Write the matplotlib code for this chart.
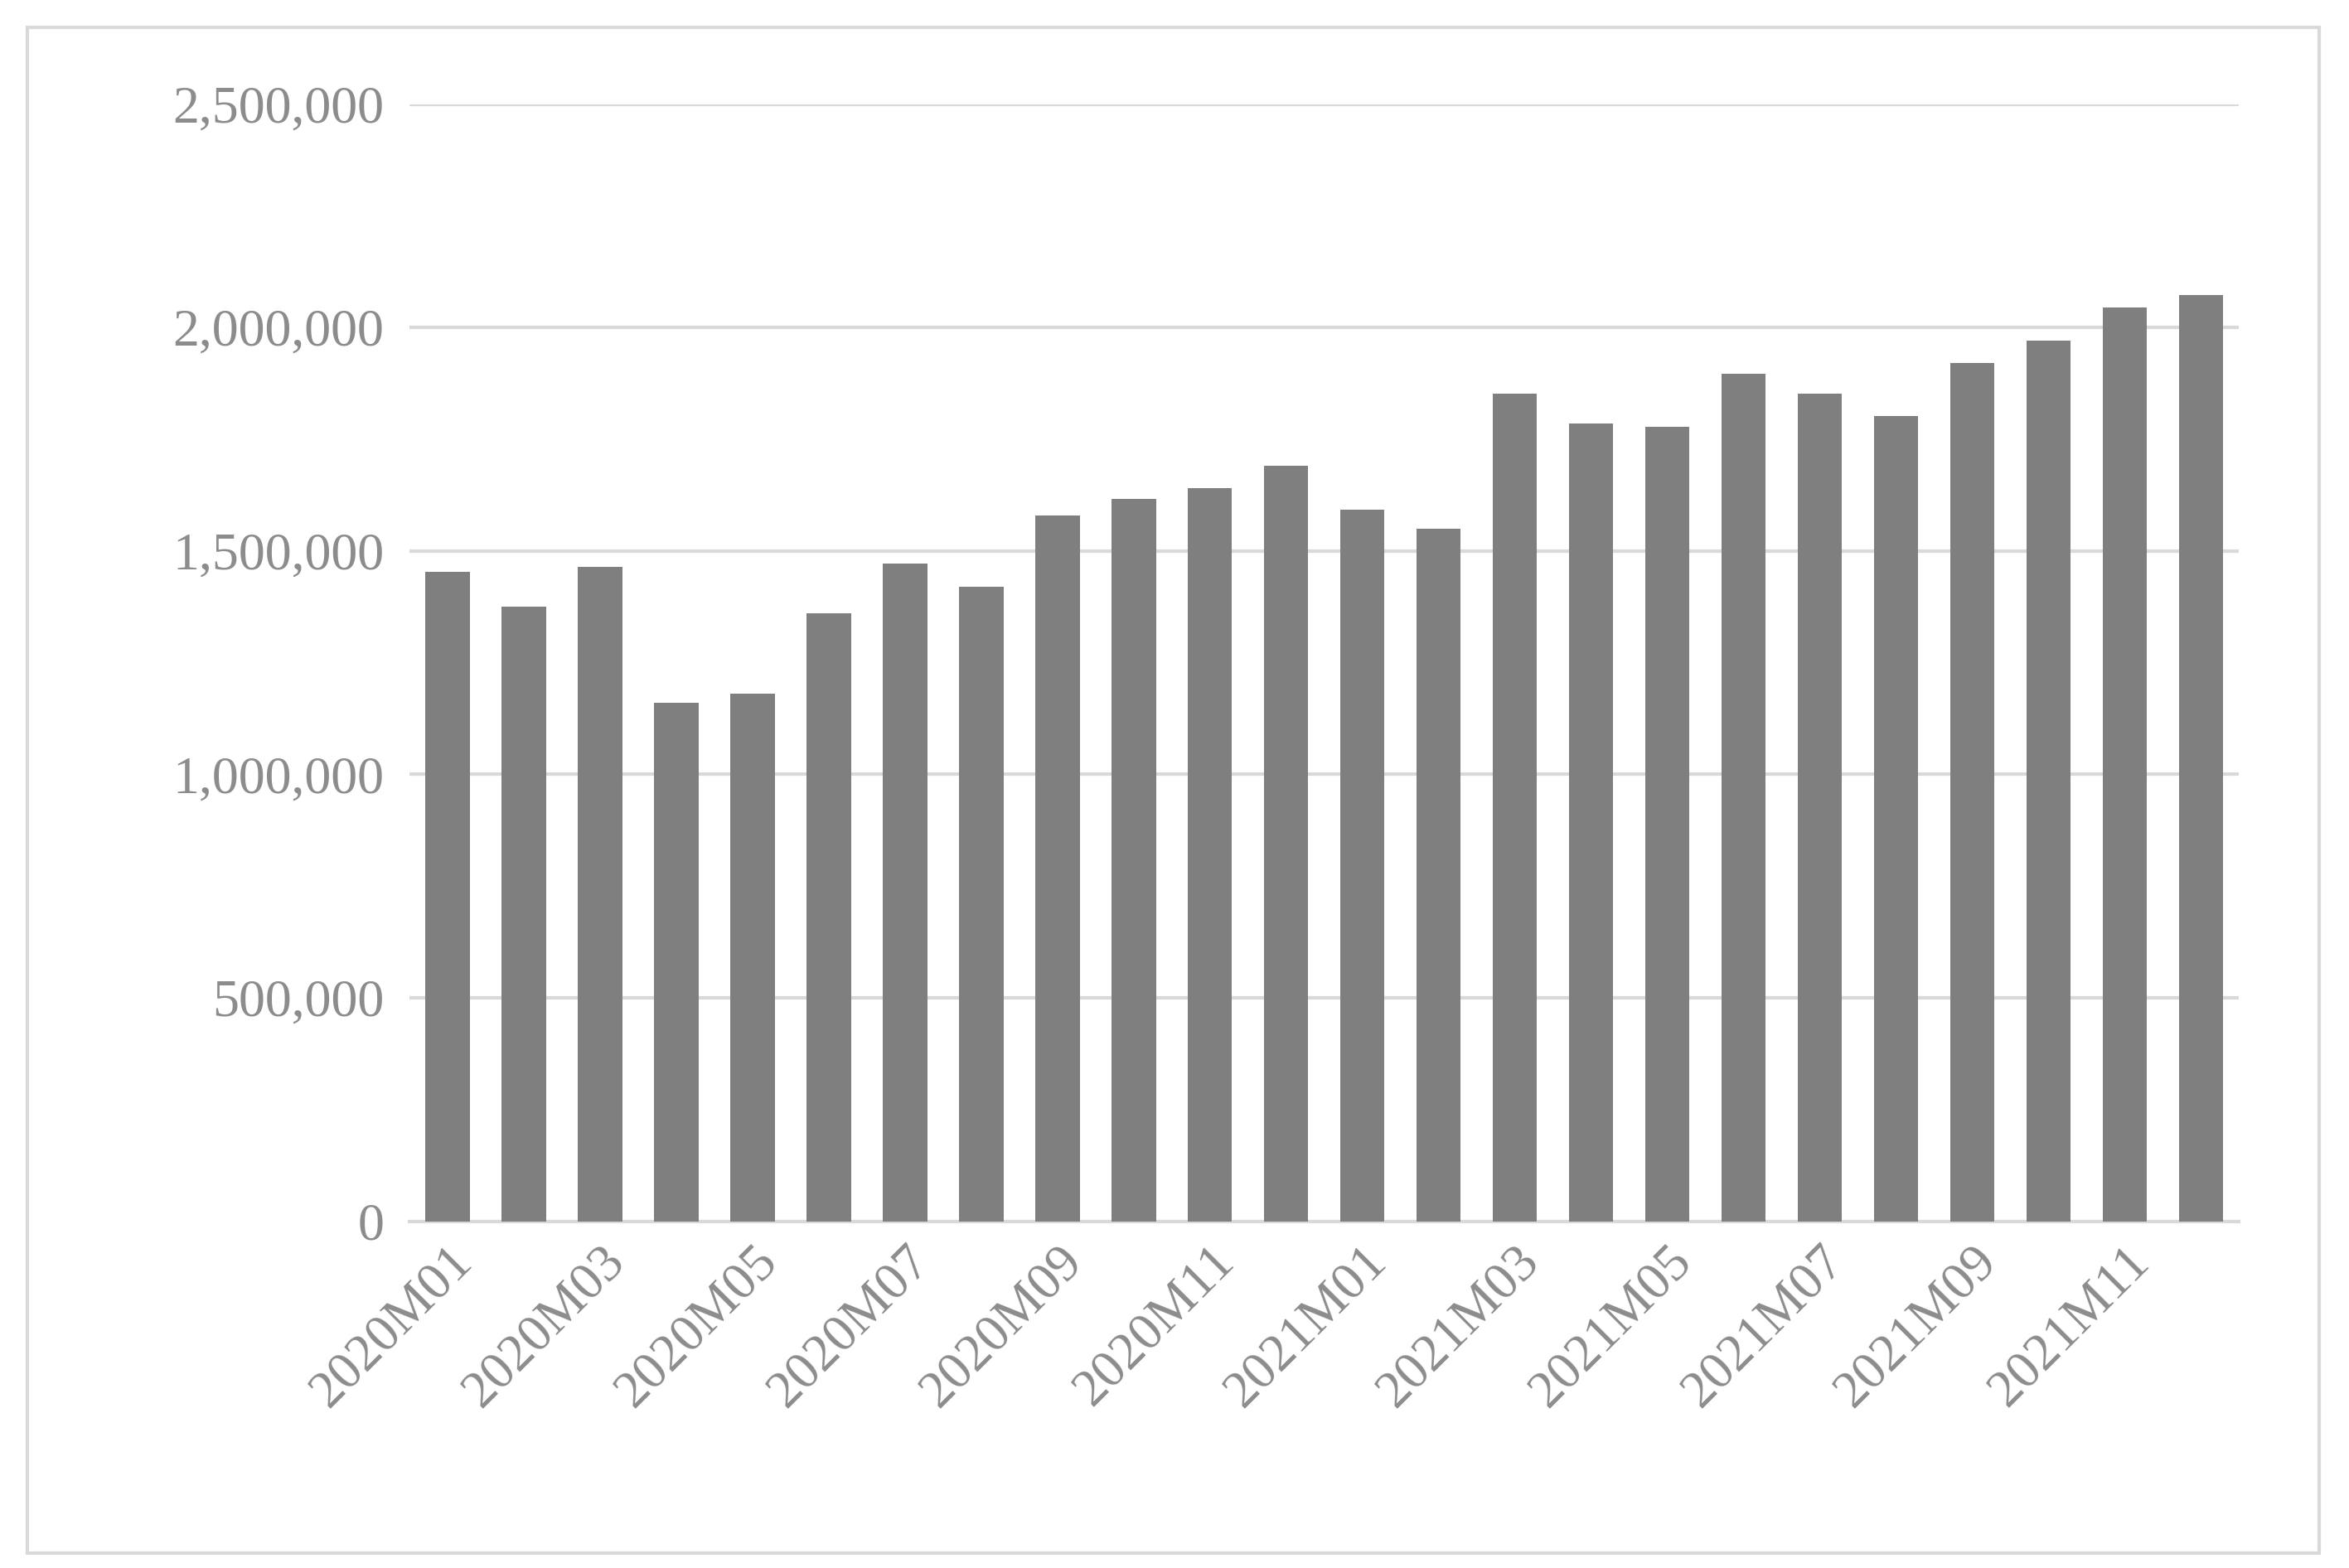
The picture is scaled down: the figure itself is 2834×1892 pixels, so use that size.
import matplotlib
matplotlib.use('Agg')
import matplotlib.pyplot as plt
from matplotlib.patches import Rectangle
from matplotlib.ticker import FuncFormatter

months = [f"{y}M{m:02d}" for y in (2020, 2021) for m in range(1, 13)]
values = [1454000, 1376000, 1464000, 1161000, 1181000, 1360000, 1471000, 1420000,
          1579000, 1616000, 1640000, 1690000, 1592000, 1549000, 1852000, 1785000,
          1778000, 1896000, 1852000, 1802000, 1920000, 1970000, 2045000, 2072000]

plt.rcParams['font.family'] = ['Liberation Serif', 'DejaVu Serif']

fig = plt.figure(figsize=(28.34, 18.92), dpi=100)
ax = fig.add_axes([272 / 1560, 1 - 810 / 1040, (1487 - 272) / 1560, (810 - 69) / 1040])

x = range(len(months))
ax.bar(x, values, width=0.58, color='#7f7f7f', zorder=3)
ax.set_xlim(-0.5, len(months) - 0.5)
ax.set_ylim(0, 2500000)
ax.set_yticks(range(0, 2500001, 500000))
ax.yaxis.set_major_formatter(FuncFormatter(lambda v, p: f"{int(v):,}"))
ax.set_xticks(list(x)[::2])
ax.set_xticklabels(months[::2], rotation=45, ha='right', rotation_mode='anchor')
ax.tick_params(axis='both', length=0, labelsize=46, labelcolor='#8c8c8c')
ax.tick_params(axis='x', pad=14)
ax.tick_params(axis='y', pad=22)
ax.grid(axis='y', color='#d9d9d9', linewidth=3, zorder=0)
for s in ('top', 'right', 'left'):
    ax.spines[s].set_visible(False)
ax.spines['bottom'].set_color('#d9d9d9')
ax.spines['bottom'].set_linewidth(3)

fig.patches.append(Rectangle((18 / 1560, 1 - 1030 / 1040), 1522 / 1560, 1012 / 1040,
                             transform=fig.transFigure, fill=False,
                             edgecolor='#d9d9d9', linewidth=3))

fig.savefig('out.png', dpi=100)
